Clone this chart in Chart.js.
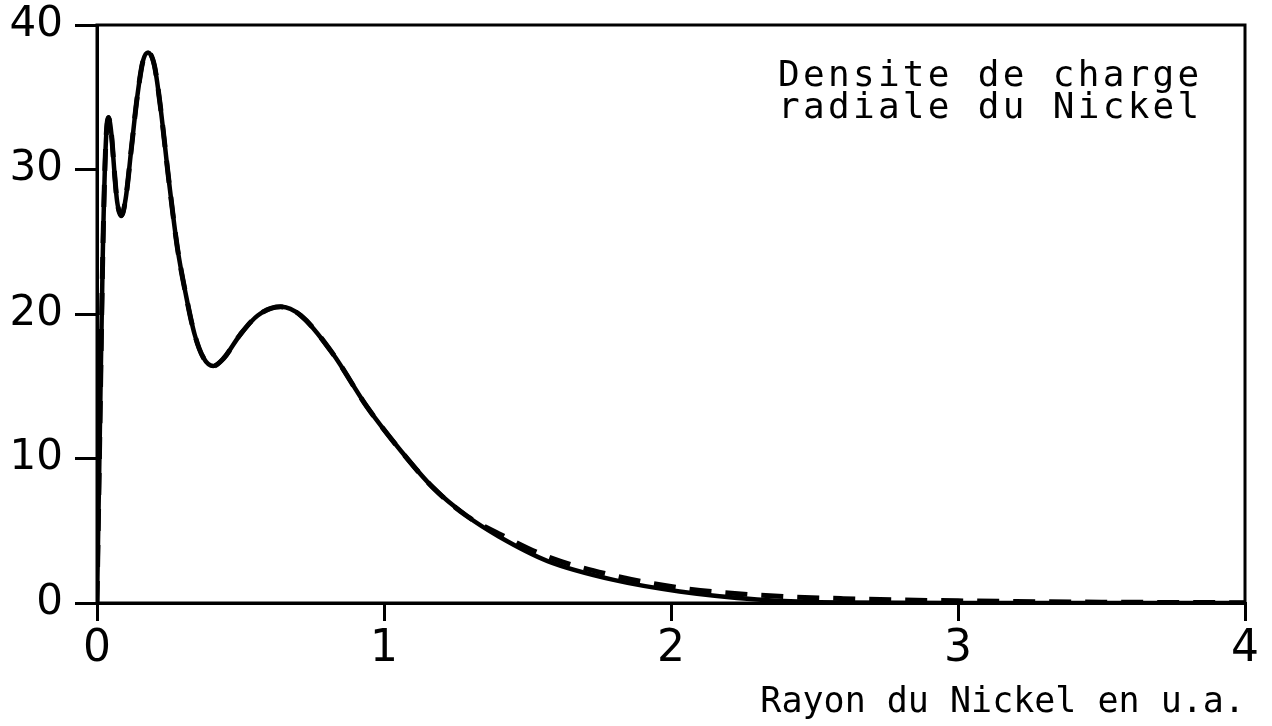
<!DOCTYPE html>
<html>
<head>
<meta charset="utf-8">
<script src="https://cdn.jsdelivr.net/npm/chart.js@4/dist/chart.umd.min.js"></script>
<style>
  html, body { margin: 0; padding: 0; background: #fff; }
  #wrap { width: 1272px; height: 726px; }
</style>
</head>
<body>
<div id="wrap"><canvas id="myChart" width="1272" height="726"></canvas></div>
<script>
// rayon (u.a.) et densite
var radius = [0, 0.01, 0.02, 0.03, 0.04, 0.05, 0.06, 0.07, 0.085, 0.1, 0.12, 0.14, 0.16, 0.178, 0.2, 0.22, 0.25, 0.28, 0.31, 0.34, 0.37, 0.405, 0.44, 0.5, 0.56, 0.64, 0.71, 0.82, 0.94, 1.06, 1.17, 1.29, 1.4, 1.57, 1.8, 2.03, 2.3, 2.6, 3.0, 3.5, 4.0];
var densite = [0, 12, 24, 31.5, 33.6, 32.5, 30, 27.8, 26.8, 28, 31.5, 35, 37.5, 38.1, 37.2, 34.5, 29.3, 24.6, 21.3, 18.6, 17.0, 16.4, 16.9, 18.6, 19.9, 20.5, 19.9, 17.3, 13.6, 10.5, 8.0, 6.0, 4.6, 2.9, 1.6, 0.8, 0.25, 0.03, 0, 0, 0];
var densite2 = [0, 12, 24, 31.5, 33.6, 32.5, 30, 27.8, 26.8, 28, 31.5, 35, 37.5, 38.1, 37.2, 34.5, 29.3, 24.6, 21.3, 18.6, 17.0, 16.4, 16.9, 18.6, 19.9, 20.5, 19.9, 17.3, 13.6, 10.5, 8.0, 6.0, 4.8, 3.2, 1.9, 1.05, 0.55, 0.3, 0.15, 0.06, 0.02];
var xTicks = [0, 1, 2, 3, 4];
var yTicks = [0, 10, 20, 30, 40];
var noteLines = ['Densite de charge', 'radiale du Nickel'];
var xTitle = 'Rayon du Nickel en u.a.';

function pts(ys) {
    var out = [];
    for (let i = 0; i < radius.length; i++) {
        out.push({x: radius[i], y: ys[i]});
    }
    return out;
}

// cadre + texte d'annotation
var frame = {
    id: 'frame',
    afterDraw: function(chart) {
        var ctx = chart.ctx, a = chart.chartArea;
        ctx.save();
        ctx.strokeStyle = '#000';
        ctx.lineWidth = 3;
        ctx.strokeRect(a.left, a.top, a.right - a.left, a.bottom - a.top);
        ctx.fillStyle = '#000';
        ctx.font = '36px "DejaVu Sans Mono"';
        ctx.letterSpacing = '3.3px';
        ctx.textBaseline = 'alphabetic';
        ctx.fillText(noteLines[0], 778, 86);
        ctx.fillText(noteLines[1], 778, 118);
        ctx.restore();
    }
};

var ctx = document.getElementById('myChart').getContext('2d');
var myChart = new Chart(ctx, {
    type: 'line',
    data: {
        datasets: [{
            data: pts(densite),
            borderColor: '#000',
            borderWidth: 4.5,
            pointRadius: 0,
            cubicInterpolationMode: 'monotone',
            fill: false
        }, {
            data: pts(densite2),
            borderColor: '#000',
            borderWidth: 5,
            borderDash: [22, 14],
            pointRadius: 0,
            cubicInterpolationMode: 'monotone',
            fill: false
        }]
    },
    options: {
        responsive: false,
        animation: false,
        layout: { padding: { left: 0, right: 27, top: 25, bottom: 0 } },
        plugins: { legend: { display: false }, tooltip: { enabled: false } },
        scales: {
            x: {
                type: 'linear',
                min: 0, max: 4,
                afterFit: function(s) { s.height = 123; s.paddingLeft = 0; s.paddingRight = 0; },
                afterBuildTicks: function(s) { s.ticks = xTicks.map(v => ({value: v})); },
                grid: { drawOnChartArea: false, drawTicks: true, tickLength: 18, color: '#000', lineWidth: 3 },
                border: { display: true, color: '#000', width: 3 },
                ticks: { color: '#000', padding: 2, font: { family: 'DejaVu Sans', size: 44 } },
                title: {
                    display: true, text: xTitle, align: 'end', color: '#000',
                    font: { family: 'DejaVu Sans Mono', size: 35 },
                    padding: { top: 8, bottom: 2 }
                }
            },
            y: {
                min: 0, max: 40,
                afterFit: function(s) { s.width = 97; s.paddingTop = 0; s.paddingBottom = 0; },
                afterBuildTicks: function(s) { s.ticks = yTicks.map(v => ({value: v})); },
                grid: { drawOnChartArea: false, drawTicks: true, tickLength: 22, color: '#000', lineWidth: 3 },
                border: { display: true, color: '#000', width: 3 },
                ticks: { color: '#000', padding: 12, font: { family: 'DejaVu Sans', size: 42 } }
            }
        }
    },
    plugins: [frame]
});
</script>
</body>
</html>
